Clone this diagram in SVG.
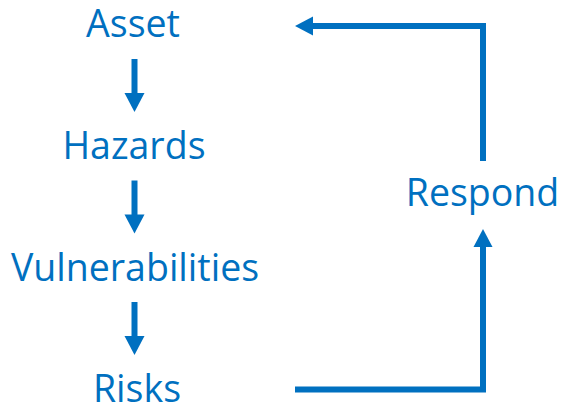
<svg xmlns="http://www.w3.org/2000/svg" width="561" height="404" viewBox="0 0 561 404">
  <defs>
    <style>
      .label { font-family: "Open Sans", "Noto Sans", "DejaVu Sans", sans-serif; font-size: 37.5px; fill: #0070C0; text-anchor: middle; }
      .link { fill: none; stroke: #0070C0; stroke-width: 6; }
      .head { fill: #0070C0; }
    </style>
  </defs>
  <rect width="561" height="404" fill="#FFFFFF"/>

  <g id="connectors">
    <!-- Asset to Hazards -->
    <g id="c-asset-hazards">
      <line class="link" x1="134.5" y1="59" x2="134.5" y2="94"/>
      <polygon class="head" points="124.5,93 144.5,93 134.5,112"/>
    </g>
    <!-- Hazards to Vulnerabilities -->
    <g id="c-hazards-vuln">
      <line class="link" x1="134.5" y1="180.5" x2="134.5" y2="215.5"/>
      <polygon class="head" points="124.5,214.5 144.5,214.5 134.5,233.5"/>
    </g>
    <!-- Vulnerabilities to Risks -->
    <g id="c-vuln-risks">
      <line class="link" x1="134.5" y1="302" x2="134.5" y2="337"/>
      <polygon class="head" points="124.5,336 144.5,336 134.5,355"/>
    </g>
    <!-- Risks to Respond -->
    <g id="c-risks-respond">
      <polyline class="link" points="295,389.5 483,389.5 483,246"/>
      <polygon class="head" points="473.5,247 492.5,247 483,229"/>
    </g>
    <!-- Respond back to Asset -->
    <g id="c-respond-asset">
      <polyline class="link" points="483,161 483,26 312,26"/>
      <polygon class="head" points="313,16.5 313,35.5 295,26"/>
    </g>
  </g>

  <g id="asset"><text class="label" x="133" y="37">Asset</text></g>
  <g id="hazards"><text class="label" x="134" y="159">Hazards</text></g>
  <g id="vulnerabilities"><text class="label" x="135" y="281">Vulnerabilities</text></g>
  <g id="risks"><text class="label" x="137" y="401.5">Risks</text></g>
  <g id="respond"><text class="label" x="482.5" y="206">Respond</text></g>
</svg>
